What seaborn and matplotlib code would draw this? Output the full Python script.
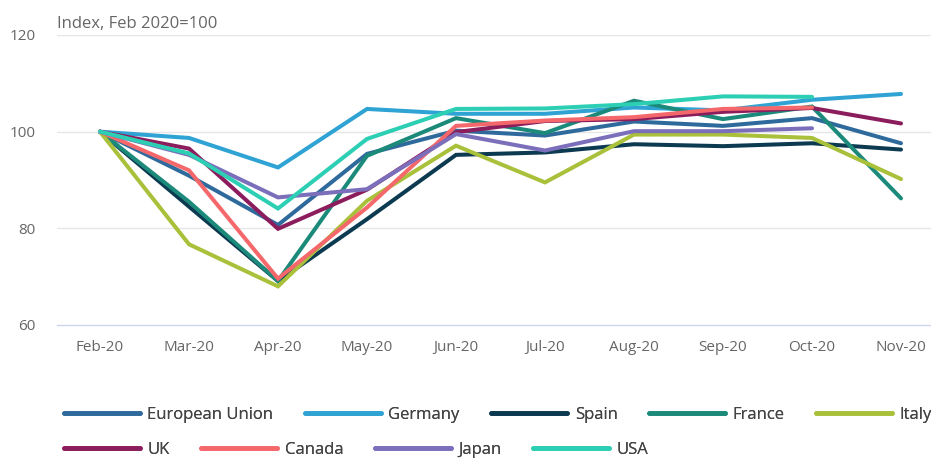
import numpy as np
import pandas as pd
import matplotlib
matplotlib.use('Agg')
import matplotlib.pyplot as plt
import seaborn as sns

months = ['Feb-20', 'Mar-20', 'Apr-20', 'May-20', 'Jun-20', 'Jul-20',
          'Aug-20', 'Sep-20', 'Oct-20', 'Nov-20']

european_union = [100, 90.9, 80.7, 95.4, 100.2, 99.2, 102.1, 101.2, 102.8, 97.6]
germany = [100, 98.7, 92.6, 104.7, 103.7, 103.7, 105.0, 104.4, 106.6, 107.8]
spain = [100, 84.5, 69.1, 81.9, 95.2, 95.7, 97.4, 97.0, 97.6, 96.3]
france = [100, 85.5, 69.1, 95.0, 102.8, 99.7, 106.4, 102.6, 105.2, 86.2]
italy = [100, 76.7, 68.0, 85.7, 97.1, 89.5, 99.4, 99.4, 98.7, 90.2]
uk = [100, 96.5, 79.9, 88.0, 99.9, 102.2, 102.6, 104.1, 104.9, 101.7]
canada = [100, 92.0, 69.6, 84.3, 101.2, 102.3, 103.0, 104.7, 105.0, np.nan]
japan = [100, 95.2, 86.4, 88.1, 99.5, 96.1, 100.1, 100.1, 100.7, np.nan]
usa = [100, 95.5, 84.1, 98.5, 104.7, 104.8, 105.7, 107.3, 107.2, np.nan]

series = {
    'European Union': european_union,
    'Germany': germany,
    'Spain': spain,
    'France': france,
    'Italy': italy,
    'UK': uk,
    'Canada': canada,
    'Japan': japan,
    'USA': usa,
}

colors = {
    'European Union': '#2f6a9c',
    'Germany': '#2fa3d3',
    'Spain': '#0c3a50',
    'France': '#1b8a7a',
    'Italy': '#a9c13a',
    'UK': '#8c1d5d',
    'Canada': '#f4686c',
    'Japan': '#7b6fbb',
    'USA': '#2dcfb4',
}

# long format for seaborn
rows = []
for name, vals in series.items():
    for i, v in enumerate(vals):
        rows.append({'country': name, 'pos': i, 'value': v})
df = pd.DataFrame(rows).dropna()

sns.set_style('white')
plt.rcParams['font.family'] = ['Open Sans', 'DejaVu Sans']

fig = plt.figure(figsize=(9.31, 4.59), dpi=100)
ax = fig.add_axes([57 / 931, 1 - 325 / 459, 874 / 931, 290 / 459])

sns.lineplot(data=df, x='pos', y='value', hue='country', palette=colors,
             hue_order=list(series.keys()), linewidth=2.9, ax=ax,
             legend=False, solid_capstyle='round', solid_joinstyle='miter')

ax.set_xlim(-43 / 89, (931 - 100) / 89)
ax.set_ylim(60, 120)
ax.set_yticks([60, 80, 100, 120])
ax.set_xticks(range(len(months)))
ax.set_xticklabels(months)
ax.set_xlabel('')
ax.set_ylabel('')

for y in [80, 100, 120]:
    ax.axhline(y, color='#e6e6e6', linewidth=1, zorder=0)

for s in ['left', 'right', 'top']:
    ax.spines[s].set_visible(False)
ax.spines['bottom'].set_color('#ccd6eb')
ax.spines['bottom'].set_linewidth(1)

ax.tick_params(axis='x', colors='#ccd6eb', length=8, width=1, pad=3,
               labelcolor='#666666', labelsize=11)
ax.tick_params(axis='y', length=0, pad=15.5, labelcolor='#666666', labelsize=11)

fig.text(57 / 931, 1 - 24 / 459, 'Index, Feb 2020=100', color='#666666',
         fontsize=12, va='center', ha='left')

# legend in two flowing rows
names = list(series.keys())
row1 = names[:5]
row2 = names[5:]
for row_names, ytop in [(row1, 407), (row2, 442)]:
    handles = [plt.Line2D([], [], color=colors[n], linewidth=3.4) for n in row_names]
    leg = fig.legend(handles, row_names, loc='upper left',
                     bbox_to_anchor=(64 / 931, 1 - ytop / 459),
                     ncol=len(row_names), frameon=False,
                     handlelength=4.55, handletextpad=0.45, columnspacing=1.9,
                     borderpad=0, borderaxespad=0,
                     prop={'family': ['Open Sans', 'DejaVu Sans'], 'size': 12})
    for t in leg.get_texts():
        t.set_color('#444444')
    fig.add_artist(leg)

fig.savefig('out.png', dpi=100)
